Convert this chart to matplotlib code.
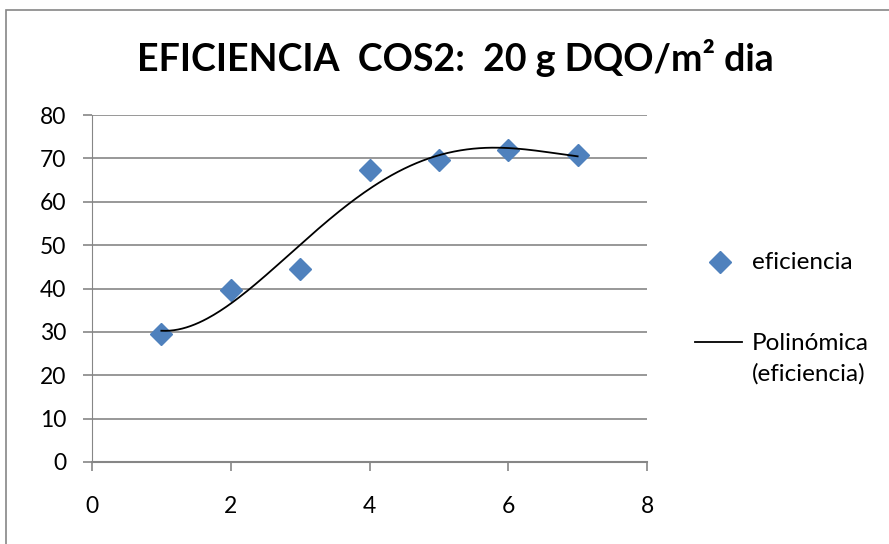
import numpy as np
import matplotlib
matplotlib.use("Agg")
import matplotlib.pyplot as plt
from matplotlib.patches import Rectangle
from matplotlib.lines import Line2D

x_vals = [1, 2, 3, 4, 5, 6, 7]
eficiencia = [29.6, 39.6, 44.6, 67.3, 69.7, 71.9, 70.7]
y_ticks = [0, 10, 20, 30, 40, 50, 60, 70, 80]
x_ticks = [0, 2, 4, 6, 8]

plt.rcParams['font.family'] = ['Lato', 'DejaVu Sans']

fig = plt.figure(figsize=(8.89, 5.44), dpi=100)
fig.patches.append(Rectangle((6/889, -0.1), 1.2, 1 - 10/544 + 0.1, transform=fig.transFigure,
                             fill=False, edgecolor='#868686', linewidth=1.2))

ax = fig.add_axes([92/889, 1 - 462/544, (647 - 92)/889, (462 - 115)/544])
ax.set_xlim(0, 8)
ax.set_ylim(0, 80)
ax.set_yticks(y_ticks)
ax.set_xticks(x_ticks)
ax.yaxis.grid(True, color='#868686', linewidth=1.2)
ax.set_axisbelow(True)
for s in ['top', 'right']:
    ax.spines[s].set_visible(False)
ax.spines['left'].set_color('#868686')
ax.spines['bottom'].set_color('#868686')
ax.spines['bottom'].set_linewidth(1.5)
ax.tick_params(axis='both', colors='#868686', length=6.5, width=1.2, labelsize=16.5,
               labelcolor='black')
ax.tick_params(axis='x', pad=18)
ax.tick_params(axis='y', pad=12)

ax.plot(x_vals, eficiencia, linestyle='none', marker='D', markersize=11,
        color='#4F81BD', zorder=3)

coef = np.polyfit(x_vals, eficiencia, 4)
xs = np.linspace(min(x_vals), max(x_vals), 200)
ax.plot(xs, np.polyval(coef, xs), color='black', linewidth=1.3, zorder=4)

fig.text(455/889, 1 - 58/544, "EFICIENCIA  COS2:  20 g DQO/m² dia", ha='center', va='center',
         fontsize=27, fontweight='bold')

# legend
fig.lines.append(Line2D([720/889], [1 - 262/544], transform=fig.transFigure, marker='D',
                        markersize=11, color='#4F81BD', linestyle='none'))
fig.text(752/889, 1 - 269/544, "eficiencia", ha='left', va='baseline', fontsize=17.5)
fig.lines.append(Line2D([695/889, 742/889], [1 - 342/544, 1 - 342/544], transform=fig.transFigure,
                        color='black', linewidth=1.3))
fig.text(752/889, 1 - 350/544, "Polinómica", ha='left', va='baseline', fontsize=17.5)
fig.text(752/889, 1 - 381/544, "(eficiencia)", ha='left', va='baseline', fontsize=17.5)

fig.savefig("out.png", dpi=100)
